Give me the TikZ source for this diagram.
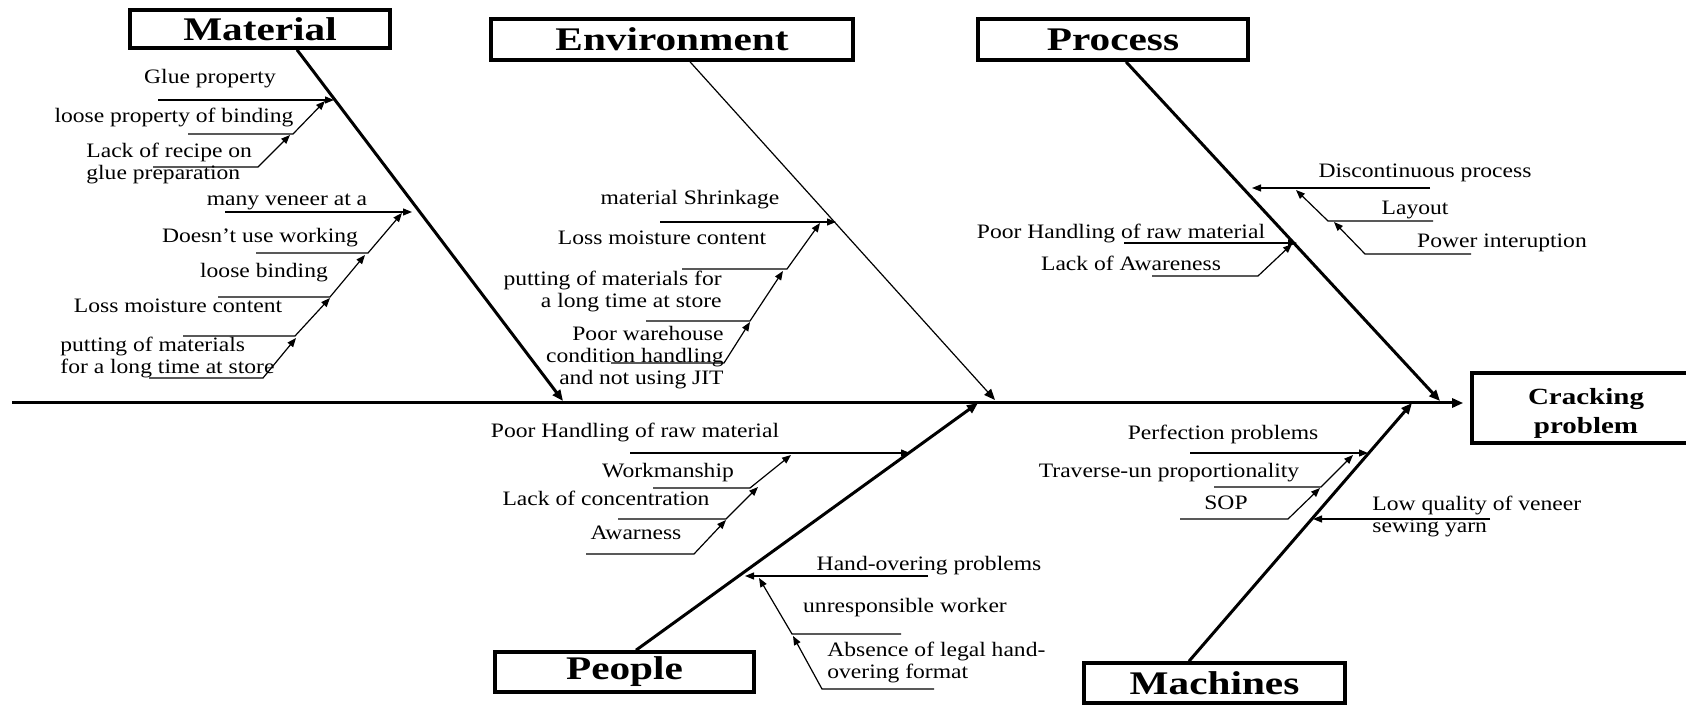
\documentclass[tikz,border=0pt]{standalone}
\usepackage{fontspec}
\setmainfont{Liberation Serif}
\newfontfamily\causefont[FakeStretch=1.15]{Liberation Serif}
\newfontfamily\headfont[FakeStretch=1.25]{Liberation Serif}
\usetikzlibrary{arrows.meta}

\tikzset{
  catbox/.style={draw, line width=1.8pt, inner sep=0pt,
    font=\headfont\bfseries\fontsize{16.5}{18}\selectfont},
  bone/.style={line width=1.5pt, -{Triangle[length=5.5pt,width=4.5pt]}},
  thinbone/.style={line width=0.6pt, -{Triangle[length=5.5pt,width=4.5pt]}},
  twig/.style={line width=0.6pt, -{Triangle[length=4.5pt,width=3.5pt]}},
  cause/.style={inner sep=0pt, text height=1.5ex, text depth=.25ex,
    font=\causefont\fontsize{10.25}{11}\selectfont},
  causes/.style={inner sep=0pt, align=#1,
    font=\causefont\fontsize{10.25}{11}\selectfont},
}

\begin{document}
\begin{tikzpicture}[x=0.5pt,y=-0.5pt]
  \useasboundingbox (0,0) rectangle (1686,705);
  \clip (0,0) rectangle (1686,705);
  %boxes
  \node[catbox, minimum width=130pt, minimum height=19pt] (mat) at (260,29) {Material};
  \node[catbox, minimum width=181pt, minimum height=20.5pt] (env) at (672,39.5) {Environment};
  \node[catbox, minimum width=135pt, minimum height=20.5pt] (proc) at (1113,39.5) {Process};
  \node[catbox, minimum width=129.5pt, minimum height=20pt] (ppl) at (624.5,672) {People};
  \node[catbox, minimum width=130.5pt, minimum height=20pt] (mach) at (1214.5,683) {Machines};
  \node[catbox, minimum width=114pt, minimum height=35pt, align=center,
    font=\headfont\bfseries\fontsize{11.6}{14.5}\selectfont] (crack) at (1586,408)
    {\rule{0pt}{13pt}Cracking\\problem};

  %spine and bones
  \coordinate (spine) at (12,403);
  \draw[bone, shorten >=3.5pt] (spine) -- (spine -| crack.west);
  \coordinate (mtip) at (563,401);
  \coordinate (etip) at (995,400);
  \coordinate (ptip) at (1440,401);
  \coordinate (htip) at (978,403);
  \coordinate (ctip) at (1412,403);
  \draw[bone] ([xshift=18.5pt]mat.south) -- (mtip);
  \draw[thinbone] ([xshift=9pt]env.south) -- (etip);
  \draw[bone] ([xshift=6.5pt]proc.south) -- (ptip);
  \draw[bone] ([xshift=5.75pt]ppl.north) -- (htip);
  \draw[bone] ([xshift=-12.75pt]mach.north) -- (ctip);

  %material
  \node[cause] (m1) at (210,78) {Glue property};
  \node[cause] (m2) at (174,117) {loose property of binding};
  \node[causes=left, anchor=west] (m3) at (86,163) {Lack of recipe on\\glue preparation};
  \node[cause] (m4) at (287,200) {many veneer at a};
  \node[cause] (m5) at (260,237) {Doesn’t use working};
  \node[cause] (m6) at (264,272) {loose binding};
  \node[cause] (m7) at (178,307) {Loss moisture content};
  \node[causes=left, anchor=west] (m8) at (60,357) {putting of materials\\for a long time at store};
  \coordinate (m1s) at (158,100); \coordinate (m1t) at (334,100);
  \coordinate (m2s) at (188,134); \coordinate (m2k) at (293,134); \coordinate (m2t) at (325,101);
  \coordinate (m3s) at (153,167); \coordinate (m3k) at (258,167); \coordinate (m3t) at (290,135);
  \coordinate (m4s) at (225,212); \coordinate (m4t) at (412,212);
  \coordinate (m5s) at (256,253); \coordinate (m5k) at (368,253); \coordinate (m5t) at (402,213);
  \coordinate (m6s) at (218,297); \coordinate (m6k) at (330,297); \coordinate (m6t) at (365,255);
  \coordinate (m7s) at (183,336); \coordinate (m7k) at (295,336); \coordinate (m7t) at (330,298);
  \coordinate (m8s) at (149,378); \coordinate (m8k) at (263,378); \coordinate (m8t) at (296,338);
  \draw[twig] (m1s) -- (m1t);
  \draw[twig] (m2s) -- (m2k) -- (m2t);
  \draw[twig] (m3s) -- (m3k) -- (m3t);
  \draw[twig] (m4s) -- (m4t);
  \draw[twig] (m5s) -- (m5k) -- (m5t);
  \draw[twig] (m6s) -- (m6k) -- (m6t);
  \draw[twig] (m7s) -- (m7k) -- (m7t);
  \draw[twig] (m8s) -- (m8k) -- (m8t);

  %environment
  \node[cause] (e1) at (690,199) {material Shrinkage};
  \node[cause] (e2) at (662,239) {Loss moisture content};
  \node[causes=right, anchor=east] (e3) at (722,291) {putting of materials for\\a long time at store};
  \node[causes=right, anchor=east] (e4) at (724,358) {Poor warehouse\\condition handling\\and not using JIT};
  \coordinate (e1s) at (660,222); \coordinate (e1t) at (836,222);
  \coordinate (e2s) at (682,269); \coordinate (e2k) at (787,269); \coordinate (e2t) at (820,223);
  \coordinate (e3s) at (646,321); \coordinate (e3k) at (750,321); \coordinate (e3t) at (783,271);
  \coordinate (e4s) at (611,363); \coordinate (e4k) at (724,363); \coordinate (e4t) at (750,322);
  \draw[twig] (e1s) -- (e1t);
  \draw[twig] (e2s) -- (e2k) -- (e2t);
  \draw[twig] (e3s) -- (e3k) -- (e3t);
  \draw[twig] (e4s) -- (e4k) -- (e4t);

  %process
  \node[cause] (p1) at (1425,172) {Discontinuous process};
  \node[cause] (p2) at (1415,209) {Layout};
  \node[cause] (p3) at (1502,242) {Power interuption};
  \node[cause] (p4) at (1121,233) {Poor Handling of raw material};
  \node[cause] (p5) at (1131,265) {Lack of Awareness};
  \coordinate (p1s) at (1430,188); \coordinate (p1t) at (1252,188);
  \coordinate (p2s) at (1433,221); \coordinate (p2k) at (1328,221); \coordinate (p2t) at (1296,190);
  \coordinate (p3s) at (1471,254); \coordinate (p3k) at (1365,254); \coordinate (p3t) at (1334,222);
  \coordinate (p4s) at (1124,243); \coordinate (p4t) at (1297,243);
  \coordinate (p5s) at (1152,276); \coordinate (p5k) at (1258,276); \coordinate (p5t) at (1292,244);
  \draw[twig] (p1s) -- (p1t);
  \draw[twig] (p2s) -- (p2k) -- (p2t);
  \draw[twig] (p3s) -- (p3k) -- (p3t);
  \draw[twig] (p4s) -- (p4t);
  \draw[twig] (p5s) -- (p5k) -- (p5t);

  %people
  \node[cause] (h1) at (635,432) {Poor Handling of raw material};
  \node[cause] (h2) at (668,472) {Workmanship};
  \node[cause] (h3) at (606,500) {Lack of concentration};
  \node[cause] (h4) at (636,534) {Awarness};
  \node[cause] (h5) at (929,565) {Hand-overing problems};
  \node[cause] (h6) at (905,607) {unresponsible worker};
  \node[causes=left, anchor=west] (h7) at (827,662) {Absence of legal hand-\\overing format};
  \coordinate (h1s) at (630,453); \coordinate (h1t) at (910,453);
  \coordinate (h2s) at (653,488); \coordinate (h2k) at (750,488); \coordinate (h2t) at (791,455);
  \coordinate (h3s) at (618,519); \coordinate (h3k) at (726,519); \coordinate (h3t) at (758,487);
  \coordinate (h4s) at (586,554); \coordinate (h4k) at (694,554); \coordinate (h4t) at (726,520);
  \coordinate (h5s) at (928,576); \coordinate (h5t) at (745,576);
  \coordinate (h6s) at (901,634); \coordinate (h6k) at (792,634); \coordinate (h6t) at (759,578);
  \coordinate (h7s) at (934,689); \coordinate (h7k) at (822,689); \coordinate (h7t) at (793,636);
  \draw[twig] (h1s) -- (h1t);
  \draw[twig] (h2s) -- (h2k) -- (h2t);
  \draw[twig] (h3s) -- (h3k) -- (h3t);
  \draw[twig] (h4s) -- (h4k) -- (h4t);
  \draw[twig] (h5s) -- (h5t);
  \draw[twig] (h6s) -- (h6k) -- (h6t);
  \draw[twig] (h7s) -- (h7k) -- (h7t);

  %machines
  \node[cause] (c1) at (1223,434) {Perfection problems};
  \node[cause] (c2) at (1169,472) {Traverse-un proportionality};
  \node[cause] (c3) at (1226,504) {SOP};
  \node[causes=left, anchor=west] (c4) at (1372,516) {Low quality of veneer\\sewing yarn};
  \coordinate (c1s) at (1190,453); \coordinate (c1t) at (1368,453);
  \coordinate (c2s) at (1214,487); \coordinate (c2k) at (1321,487); \coordinate (c2t) at (1353,455);
  \coordinate (c3s) at (1180,519); \coordinate (c3k) at (1288,519); \coordinate (c3t) at (1320,488);
  \coordinate (c4s) at (1490,519); \coordinate (c4t) at (1313,519);
  \draw[twig] (c1s) -- (c1t);
  \draw[twig] (c2s) -- (c2k) -- (c2t);
  \draw[twig] (c3s) -- (c3k) -- (c3t);
  \draw[twig] (c4s) -- (c4t);
\end{tikzpicture}
\end{document}
